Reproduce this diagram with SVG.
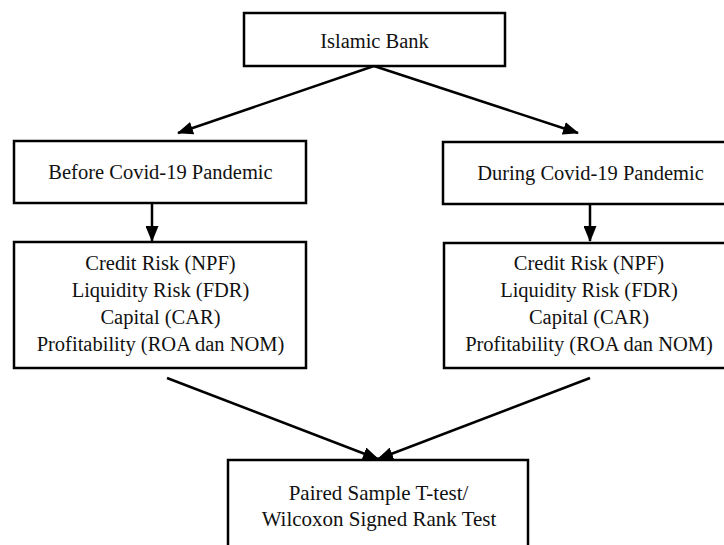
<svg xmlns="http://www.w3.org/2000/svg" width="724" height="545" viewBox="0 0 724 545">
<defs>
<marker id="ah" markerUnits="userSpaceOnUse" markerWidth="16" markerHeight="13" viewBox="0 0 16 13" refX="15" refY="6.5" orient="auto">
<path d="M0,0 L16,6.5 L0,13 Z" fill="#000"/>
</marker>
<style>
.box{fill:#fff;stroke:#000;stroke-width:2.5}
.t{font-family:"Liberation Serif","Times New Roman",serif;font-size:20.5px;fill:#111;text-anchor:middle}
.c{font-family:"Liberation Serif","DejaVu Serif",serif;font-size:21px;fill:#111;text-anchor:middle}
.ln{stroke:#000;stroke-width:2.5;fill:none;marker-end:url(#ah)}
</style>
</defs>
<rect width="724" height="545" fill="#fff"/>
<g id="connectors">
<line class="ln" x1="374" y1="66" x2="178" y2="133"/>
<line class="ln" x1="374" y1="66" x2="578" y2="133"/>
<line class="ln" x1="152" y1="203" x2="152" y2="241"/>
<line class="ln" x1="590" y1="204" x2="590" y2="241"/>
<line class="ln" x1="167" y1="378" x2="378" y2="459"/>
<line class="ln" x1="590" y1="378" x2="378" y2="459"/>
</g>
<g id="islamic-bank">
<rect class="box" x="244" y="13" width="261" height="53"/>
<text class="t" x="374.5" y="48">Islamic Bank</text>
</g>
<g id="before">
<rect class="box" x="14" y="141" width="292" height="62"/>
<text class="t" x="160.5" y="179">Before Covid-19 Pandemic</text>
</g>
<g id="during">
<rect class="box" x="443" y="142" width="295" height="62"/>
<text class="t" x="590.5" y="180">During Covid-19 Pandemic</text>
</g>
<g id="before-vars">
<rect class="box" x="14" y="242" width="292" height="126"/>
<text class="t" x="160.5" y="270">Credit Risk (NPF)</text>
<text class="t" x="160.5" y="297">Liquidity Risk (FDR)</text>
<text class="t" x="160.5" y="324">Capital (CAR)</text>
<text class="t" x="160.5" y="351">Profitability (ROA dan NOM)</text>
</g>
<g id="during-vars">
<rect class="box" x="444" y="243" width="294" height="125"/>
<text class="t" x="589" y="270">Credit Risk (NPF)</text>
<text class="t" x="589" y="297">Liquidity Risk (FDR)</text>
<text class="t" x="589" y="324">Capital (CAR)</text>
<text class="t" x="589" y="351">Profitability (ROA dan NOM)</text>
</g>
<g id="test">
<rect class="box" x="228" y="460" width="300" height="100"/>
<text class="c" x="378.5" y="500">Paired Sample T-test/</text>
<text class="c" x="379" y="526">Wilcoxon Signed Rank Test</text>
</g>
</svg>
